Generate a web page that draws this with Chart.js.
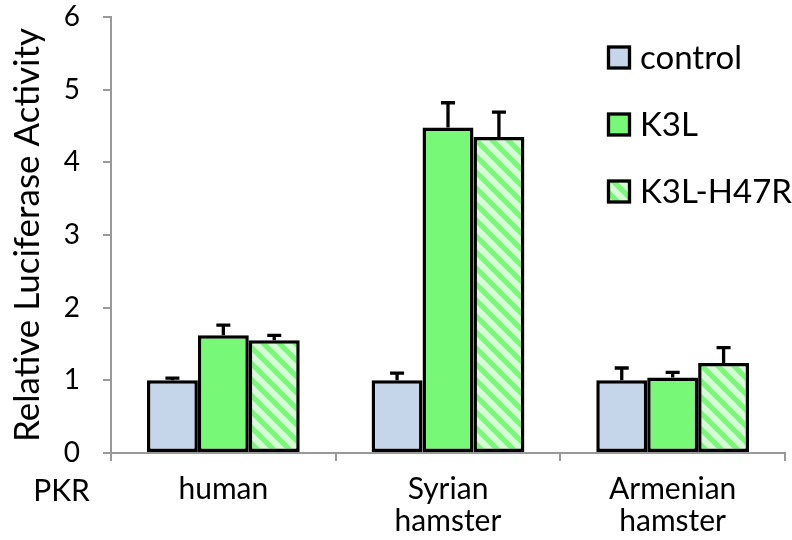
<!DOCTYPE html>
<html>
<head>
<meta charset="utf-8">
<script src="https://cdn.jsdelivr.net/npm/chart.js@4.4.1/dist/chart.umd.min.js"></script>
<style>
  html, body { margin: 0; padding: 0; background: #fff; }
  #wrap { width: 792px; height: 540px; }
</style>
</head>
<body>
<div id="wrap"><canvas id="c" width="792" height="540"></canvas></div>
<script>
// PKR species tested
const categories = ["human", ["Syrian", "hamster"], ["Armenian", "hamster"]];
const seriesNames = ["control", "K3L", "K3L-H47R"];

// Mean relative luciferase activity per species
const controlValues = [1.00, 1.00, 1.00];
const k3lValues = [1.62, 4.48, 1.04];
const h47rValues = [1.55, 4.35, 1.24];

// Upper error bars (standard deviation)
const controlErr = [0.03, 0.10, 0.17];
const k3lErr = [0.14, 0.34, 0.07];
const h47rErr = [0.07, 0.34, 0.21];

const yTicks = [0, 1, 2, 3, 4, 5, 6];

const FONT = "Lato, 'Open Sans', sans-serif";

// diagonal stripe fill for the mutant series
function stripePattern() {
  const s = 16;
  const p = document.createElement('canvas');
  p.width = s; p.height = s;
  const g = p.getContext('2d');
  g.fillStyle = '#d5fcd5';
  g.fillRect(0, 0, s, s);
  g.strokeStyle = '#77f977';
  g.lineWidth = 5.2;
  g.beginPath();
  for (let k = -1; k <= 1; k++) {
    g.moveTo(k * s - 2, -2);
    g.lineTo(k * s + s + 2, s + 2);
  }
  g.stroke();
  return document.getElementById('c').getContext('2d').createPattern(p, 'repeat');
}

const errors = [controlErr, k3lErr, h47rErr];

const errorBarPlugin = {
  id: 'errorBars',
  afterDatasetsDraw(chart) {
    const ctx = chart.ctx;
    const y = chart.scales.y;
    ctx.save();
    ctx.strokeStyle = '#000';
    ctx.lineWidth = 3.3;
    chart.data.datasets.forEach((ds, i) => {
      const meta = chart.getDatasetMeta(i);
      meta.data.forEach((bar, j) => {
        const v = ds.data[j];
        const top = y.getPixelForValue(v + errors[i][j]);
        const base = y.getPixelForValue(v);
        ctx.beginPath();
        ctx.moveTo(bar.x, base);
        ctx.lineTo(bar.x, top);
        ctx.moveTo(bar.x - 7, top);
        ctx.lineTo(bar.x + 7, top);
        ctx.stroke();
      });
    });
    ctx.restore();
  }
};

const legendPlugin = {
  id: 'sideLegend',
  afterDraw(chart) {
    const ctx = chart.ctx;
    ctx.save();
    const x0 = 608.5, y0 = 57.5, gap = 67, box = 21;
    ctx.font = "33px " + FONT;
    ctx.textBaseline = 'middle';
    chart.data.datasets.forEach((ds, i) => {
      const cy = y0 + i * gap;
      ctx.fillStyle = ds.backgroundColor;
      ctx.fillRect(x0, cy - box / 2, box, box);
      ctx.strokeStyle = '#000';
      ctx.lineWidth = 3.3;
      ctx.strokeRect(x0, cy - box / 2, box, box);
      ctx.fillStyle = '#000';
      ctx.fillText(ds.label, 640, cy + 1);
    });
    ctx.restore();
  }
};

const pkrLabel = {
  id: 'pkrLabel',
  afterDraw(chart) {
    const ctx = chart.ctx;
    ctx.save();
    ctx.font = "30px " + FONT;
    ctx.fillStyle = '#000';
    ctx.textAlign = 'center';
    ctx.textBaseline = 'alphabetic';
    ctx.fillText('PKR', 61.5, 501);
    ctx.restore();
  }
};

const commonBar = { borderColor: '#000', borderWidth: 3.5, borderSkipped: false };

new Chart(document.getElementById('c'), {
  type: 'bar',
  data: {
    labels: categories,
    datasets: [
      Object.assign({ label: seriesNames[0], data: controlValues, backgroundColor: '#c6d6ea' }, commonBar),
      Object.assign({ label: seriesNames[1], data: k3lValues, backgroundColor: '#77f977' }, commonBar),
      Object.assign({ label: seriesNames[2], data: h47rValues, backgroundColor: stripePattern() }, commonBar)
    ]
  },
  options: {
    responsive: false,
    animation: false,
    layout: { padding: { left: 7, right: 7, top: 17, bottom: 0 } },
    datasets: { bar: { categoryPercentage: 0.68, barPercentage: 1.0 } },
    plugins: { legend: { display: false }, tooltip: { enabled: false } },
    scales: {
      x: {
        offset: true,
        afterFit(s) { s.height = 87; s.paddingLeft = 0; s.paddingRight = 0; },
        grid: { offset: true, drawOnChartArea: false, color: '#999', tickLength: 8, lineWidth: 2 },
        border: { color: '#999', width: 2 },
        ticks: { color: '#000', font: { family: FONT, size: 30, lineHeight: 1.05 }, padding: 13, maxRotation: 0 }
      },
      y: {
        min: 0, max: 6,
        afterBuildTicks(s) { s.ticks = yTicks.map(v => ({ value: v })); },
        afterFit(s) { s.width = 104; s.paddingTop = 0; s.paddingBottom = 0; },
        grid: { drawOnChartArea: false, color: '#999', tickLength: 8, lineWidth: 2 },
        border: { color: '#999', width: 2 },
        ticks: { color: '#000', font: { family: FONT, size: 28 }, padding: 23 },
        title: { display: true, text: 'Relative Luciferase Activity', color: '#000', font: { family: FONT, size: 35, lineHeight: 1.2 }, padding: { top: 0, bottom: 0 } }
      }
    }
  },
  plugins: [errorBarPlugin, legendPlugin, pkrLabel]
});
</script>
</body>
</html>
